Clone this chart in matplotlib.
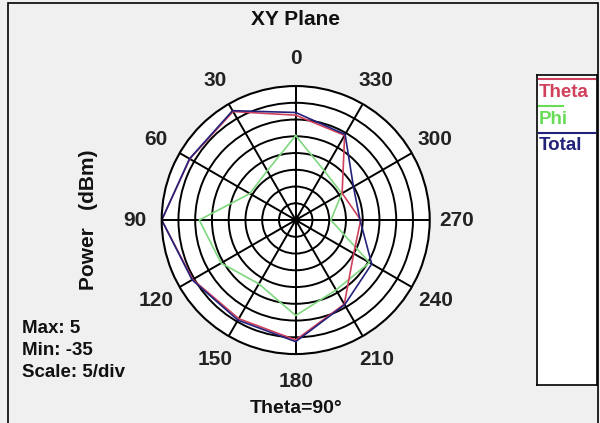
import numpy as np
import matplotlib
matplotlib.use("Agg")
import matplotlib.pyplot as plt
from matplotlib.patches import Rectangle
from matplotlib.lines import Line2D

plt.rcParams['font.family'] = ['Liberation Sans Narrow', 'Liberation Sans', 'DejaVu Sans']

# data (dBm), one value every 30 degrees starting at 0
angles_deg = [0, 30, 60, 90, 120, 150, 180, 210, 240, 270, 300, 330]
theta_vals = [-3.7, 2.4, 1.5, 5.0, 0.5, -1.0, 0.8, -6.0, -15.0, -15.6, -19.0, -5.8]
phi_vals = [-9.8, -18.0, -19.2, -6.2, -9.3, -13.0, -6.5, -10.9, -9.6, -24.5, -19.1, -18.0]
total_vals = [-2.9, 2.7, 1.6, 5.0, 0.7, -0.5, 1.3, -5.8, -8.8, -15.8, -15.1, -5.5]

r_min, r_max, r_step = -35, 5, 5
tick_labels = [str(a) for a in angles_deg]

bg = '#f0f0f0'
fig = plt.figure(figsize=(6.0, 4.23), dpi=100, facecolor=bg)

# outer frame
fig.patches.append(Rectangle((8 / 600, -0.01), 590 / 600, 1 - 3 / 423 + 0.01,
                             transform=fig.transFigure, fill=False,
                             edgecolor='black', lw=1.2))

ax = fig.add_axes([0.2695, 0.163, 0.4467, 0.6336], projection='polar')
ax.set_facecolor('white')
ax.set_theta_zero_location('N')
ax.set_theta_direction(1)
ax.set_ylim(r_min, r_max)

th = np.deg2rad(angles_deg + [angles_deg[0]])
ax.plot(th, phi_vals + [phi_vals[0]], color='#7fd87f', lw=1.2, label='Phi')
ax.plot(th, theta_vals + [theta_vals[0]], color='#d0405c', lw=1.2, label='Theta')
ax.plot(th, total_vals + [total_vals[0]], color='#22227a', lw=1.2, label='Total')
ax.plot([0], [r_min], 'o', color='black', ms=4)

ax.set_rgrids(np.arange(r_min + r_step, r_max, r_step), labels=[])
ax.set_thetagrids(angles_deg, tick_labels)
ax.grid(True, color='black', lw=1.4)
ax.spines['polar'].set_color('black')
ax.spines['polar'].set_linewidth(1.5)
ax.tick_params(axis='x', pad=9, labelsize=15)
for lb in ax.get_xticklabels():
    lb.set_fontweight('bold')
    lb.set_color('#222222')

fig.text(0.493, 0.953, 'XY Plane', ha='center', va='center',
         fontsize=15, fontweight='bold', color='#111111')
fig.text(0.493, 0.035, 'Theta=90\u00b0', ha='center', va='center',
         fontsize=14, fontweight='bold', color='#111111')
fig.text(0.147, 0.48, 'Power   (dBm)', ha='center', va='center', rotation=90,
         fontsize=15, fontweight='bold', color='#111111')

info = ['Max: %d' % r_max, 'Min: %d' % r_min, 'Scale: %d/div' % r_step]
for i, s in enumerate(info):
    fig.text(0.037, 1 - (328 + i * 22) / 423, s, ha='left', va='center',
             fontsize=13.5, fontweight='bold', color='#111111')

# legend box: line above each label
lg = fig.add_axes([537 / 600, 1 - 385 / 423, 60 / 600, 310 / 423])
lg.set_xlim(0, 1)
lg.set_ylim(0, 1)
lg.set_xticks([])
lg.set_yticks([])
lg.set_facecolor('white')
for s in lg.spines.values():
    s.set_color('black')
    s.set_linewidth(1.2)
entries = [('Theta', '#d0405c', 0.93), ('Phi', '#66dd55', 0.40), ('Total', '#22227a', 0.93)]
for i, (name, col, w) in enumerate(entries):
    y_line = 1 - (4 + i * 27) / 310
    lg.add_line(Line2D([0.04, 0.04 + w], [y_line, y_line], color=col, lw=1.5))
    lg.text(0.03, y_line - 13 / 310, name, ha='left', va='center',
            fontsize=13.5, fontweight='bold', color=col)

fig.savefig('out.png', dpi=100, facecolor=bg)
